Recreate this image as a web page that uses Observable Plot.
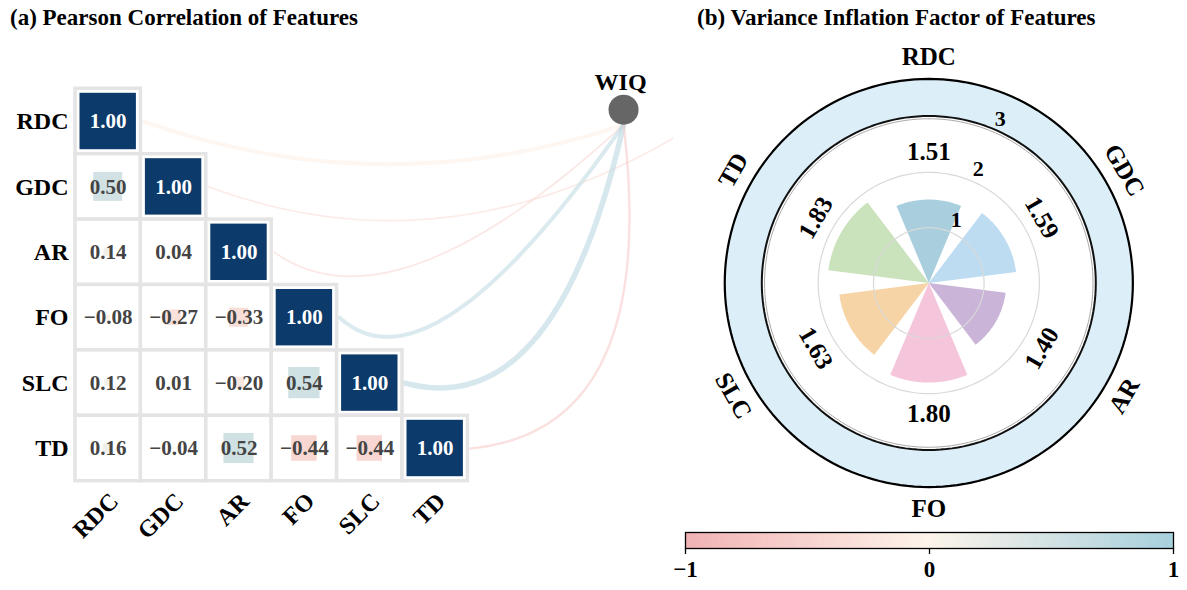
<!DOCTYPE html>
<html><head><meta charset="utf-8">
<script src="https://cdn.jsdelivr.net/npm/d3@7"></script>
<script src="https://cdn.jsdelivr.net/npm/@observablehq/plot@0.6"></script>
<style>
body{margin:0;background:#fff;}
#wrap{position:relative;width:1187px;height:590px;overflow:hidden;font-family:"Liberation Serif","Times New Roman",serif;}
.title{position:absolute;font-weight:bold;font-size:23px;line-height:1;color:#000;white-space:nowrap;z-index:2;}
#a,#b,#cb{position:absolute;}
#a{left:0;top:0;} #b{left:680px;top:0;} #cb{left:670px;top:518px;z-index:1;}
</style></head><body>
<div id="wrap">
 <div id="a"></div><div id="b"></div><div id="cb"></div>
 <div class="title" style="left:10px;top:6px">(a) Pearson Correlation of Features</div>
 <div class="title" style="left:697px;top:6px">(b) Variance Inflation Factor of Features</div>
</div>
<script>
// ---------------- data ----------------
const features = ["RDC", "GDC", "AR", "FO", "SLC", "TD"];
// lower triangle of the Pearson correlation matrix (row i, columns 0..i)
const corrRDC = [1.00];
const corrGDC = [0.50, 1.00];
const corrAR  = [0.14, 0.04, 1.00];
const corrFO  = [-0.08, -0.27, -0.33, 1.00];
const corrSLC = [0.12, 0.01, -0.20, 0.54, 1.00];
const corrTD  = [0.16, -0.04, 0.52, -0.44, -0.44, 1.00];
const corrRows = [corrRDC, corrGDC, corrAR, corrFO, corrSLC, corrTD];
// correlation of each feature with the target WIQ (link colour) and link weight
const targetName = "WIQ";
const wiqCorr   = [-0.08, -0.35, -0.50, 0.75, 0.85, -0.70];
const wiqWeight = [4.0, 1.7, 1.7, 4.0, 5.5, 2.4];
// variance inflation factors
const vif = [1.51, 1.59, 1.40, 1.80, 1.63, 1.83];
const vifColors = ["#a9cfde", "#bddcf2", "#cab4d8", "#f5c5db", "#f6d4a6", "#cbe3bd"];
const radialTicks = [1, 2, 3];
const cbTicks = [-1, 0, 1];

// ---------------- styling / layout ----------------
const FONT = "Liberation Serif, Times New Roman, serif";
const cmapRange = ["#f1b2b4", "#fdf4ea", "#a7d0dd"];
const colorScale = {type: "linear", domain: [-1, 0, 1], range: cmapRange};
const NAVY = "#0c3a6b";

// panel (a) geometry in cell units
const CELL = 65.4, GX0 = 75, GY0 = 88.3, WA = 680, HA = 590;
const node = {x: 8.38, y: 0.32};              // WIQ node position (cell units)
const nodeIn = {x: 8.38, y: 0.55};            // entry point under the node
const linkEnd = features.map(() => ({...nodeIn}));
linkEnd[1] = {x: 9.13, y: 0.76};
const bend = [[0.50, 1.28], [0.50, 1.32], [0.34, 1.29], [0.32, 1.27], [0.69, 0.62], [1.24, -0.28]];

const cells = [];
corrRows.forEach((row, i) => row.forEach((v, j) => cells.push({row: i, col: j, v, diag: i === j})));
const fmt = d3.format(".2f");
const half = 0.443;

const linkMarks = features.map((f, i) => {
  const S = {x: i + 1.04, y: i + 0.5};
  const E = linkEnd[i];
  const Cp = {x: S.x + bend[i][0] * (E.x - S.x), y: S.y + bend[i][1]};
  const pts = d3.range(0, 1.0001, 0.02).map(t => ({
    r: wiqCorr[i],
    x: (1 - t) ** 2 * S.x + 2 * t * (1 - t) * Cp.x + t * t * E.x,
    y: (1 - t) ** 2 * S.y + 2 * t * (1 - t) * Cp.y + t * t * E.y
  }));
  return Plot.line(pts, {x: "x", y: "y", stroke: "r", strokeOpacity: 0.55, strokeWidth: wiqWeight[i], curve: "basis"});
});

const plotA = Plot.plot({
  width: WA, height: HA, margin: 0,
  style: {background: "transparent", fontFamily: FONT},
  x: {domain: [-GX0 / CELL, (WA - GX0) / CELL], axis: null},
  y: {domain: [-GY0 / CELL, (HA - GY0) / CELL], reverse: true, axis: null},
  color: colorScale,
  marks: [
    ...linkMarks,
    Plot.rect(cells, {x1: d => d.col, x2: d => d.col + 1, y1: d => d.row, y2: d => d.row + 1,
      fill: "white", stroke: "#e4e4e4", strokeWidth: 3.5}),
    Plot.rect(cells.filter(d => d.diag), {x1: d => d.col, x2: d => d.col + 1, y1: d => d.row, y2: d => d.row + 1,
      inset: 4.5, fill: NAVY}),
    Plot.rect(cells.filter(d => !d.diag), {
      x1: d => d.col + 0.5 - Math.abs(d.v) * half, x2: d => d.col + 0.5 + Math.abs(d.v) * half,
      y1: d => d.row + 0.5 - Math.abs(d.v) * half, y2: d => d.row + 0.5 + Math.abs(d.v) * half,
      fill: "v"}),
    Plot.text(cells.filter(d => !d.diag), {x: d => d.col + 0.5, y: d => d.row + 0.5, text: d => fmt(d.v),
      fill: "#444", fontSize: 21, fontWeight: "bold", fontFamily: FONT}),
    Plot.text(cells.filter(d => d.diag), {x: d => d.col + 0.5, y: d => d.row + 0.5, text: d => fmt(d.v),
      fill: "white", fontSize: 21, fontWeight: "bold", fontFamily: FONT}),
    Plot.text(features, {x: 0, y: (d, i) => i + 0.5, text: d => d, textAnchor: "end", dx: -7,
      fill: "black", fontSize: 24, fontWeight: "bold", fontFamily: FONT}),
    Plot.text(features, {x: (d, i) => i + 0.5, y: features.length, text: d => d, textAnchor: "end",
      rotate: -45, dx: 6, dy: 16, fill: "black", fontSize: 24, fontWeight: "bold", fontFamily: FONT}),
    Plot.dot([node], {x: "x", y: "y", r: 15, fill: "#666", stroke: "none"}),
    Plot.text([node], {x: "x", y: "y", text: () => targetName, dy: -27, dx: -3,
      fill: "black", fontSize: 24, fontWeight: "bold", fontFamily: FONT})
  ]
});
document.getElementById("a").appendChild(plotA);

// ---------------- panel (b) polar VIF ----------------
const U = 55.3, WB = 507, HB = 560, CXB = 248.3, CYB = 282.5;
const rad = Math.PI / 180;
const pol = (r, deg) => ({x: r * Math.sin(deg * rad), y: r * Math.cos(deg * rad)});
const circle = r => d3.range(0, 361, 2).map(a => pol(r, a));
const step = 360 / features.length;
const rot = a => (a <= 90 ? a : a >= 270 ? a - 360 : a - 180);
const ringOuter = 3.69, ringInner = 3;

const wedgeMarks = features.map((f, k) => {
  const a0 = k * step;
  const pts = [{x: 0, y: 0}, ...d3.range(-22.75, 22.76, 1.3).map(a => pol(vif[k], a0 + a)), {x: 0, y: 0}];
  return Plot.line(pts, {x: "x", y: "y", fill: vifColors[k], stroke: "none"});
});

const plotB = Plot.plot({
  width: WB, height: HB, margin: 0,
  style: {background: "transparent", fontFamily: FONT},
  x: {domain: [-CXB / U, (WB - CXB) / U], axis: null},
  y: {domain: [-(HB - CYB) / U, CYB / U], axis: null},
  marks: [
    Plot.line(circle(ringOuter), {x: "x", y: "y", fill: "#dceef8", stroke: "black", strokeWidth: 2.2}),
    Plot.line(circle(ringInner + 0.02), {x: "x", y: "y", fill: "white", stroke: "#111", strokeWidth: 2}),
    Plot.line(circle(ringInner - 0.03), {x: "x", y: "y", stroke: "#aaa", strokeWidth: 1}),
    ...wedgeMarks,
    ...radialTicks.slice(0, 2).map(r => Plot.line(circle(r), {x: "x", y: "y", stroke: "#d9d9d9", strokeWidth: 1.2})),
    Plot.text(radialTicks, {x: d => pol(d + 0.24, 23.5).x, y: d => pol(d + 0.24, 23.5).y, text: d => String(d),
      fill: "black", fontSize: 22, fontWeight: "bold", fontFamily: FONT}),
    Plot.text(vif, {x: (d, k) => pol(2.36, k * step).x, y: (d, k) => pol(2.36, k * step).y,
      text: d => d.toFixed(2), rotate: (d, k) => rot(k * step),
      fill: "black", fontSize: 25, fontWeight: "bold", fontFamily: FONT}),
    Plot.text(features, {x: (d, k) => pol(4.08, k * step).x, y: (d, k) => pol(4.08, k * step).y,
      text: d => d, rotate: (d, k) => rot(k * step),
      fill: "black", fontSize: 25, fontWeight: "bold", fontFamily: FONT})
  ]
});
document.getElementById("b").appendChild(plotB);

// ---------------- colour bar ----------------
const segs = d3.range(200).map(i => ({a: -1 + i * 0.01, b: -1 + (i + 1) * 0.01 + 0.003}));
const tf = d => d < 0 ? "\u2212" + Math.abs(d) : String(d);
const cbMarks = [
  Plot.rect(segs, {x1: "a", x2: d => Math.min(1, d.b), y1: 0, y2: 1, fill: d => (d.a + d.b) / 2}),
  Plot.frame({stroke: "black", strokeWidth: 1.3})
];
const cbOpts = {
  width: 517, height: 72, marginLeft: 15, marginRight: 14, marginTop: 14, marginBottom: 42,
  style: {background: "transparent", fontFamily: FONT, fontSize: "23px", fontWeight: "bold", color: "black", overflow: "visible"},
  color: colorScale,
  y: {domain: [0, 1], axis: null},
  x: {domain: [-1, 1], label: null}
};
if (Plot.axisX) {
  cbMarks.push(Plot.axisX({ticks: cbTicks, tickSize: 6, tickPadding: 6, strokeWidth: 1.3, label: null,
    tickFormat: tf, fontSize: 23, fontWeight: "bold", fill: "black"}));
} else {
  Object.assign(cbOpts.x, {ticks: cbTicks, tickSize: 6, tickPadding: 6, tickFormat: tf});
}
const cb = Plot.plot({...cbOpts, marks: cbMarks});
document.getElementById("cb").appendChild(cb);
</script>
</body></html>
